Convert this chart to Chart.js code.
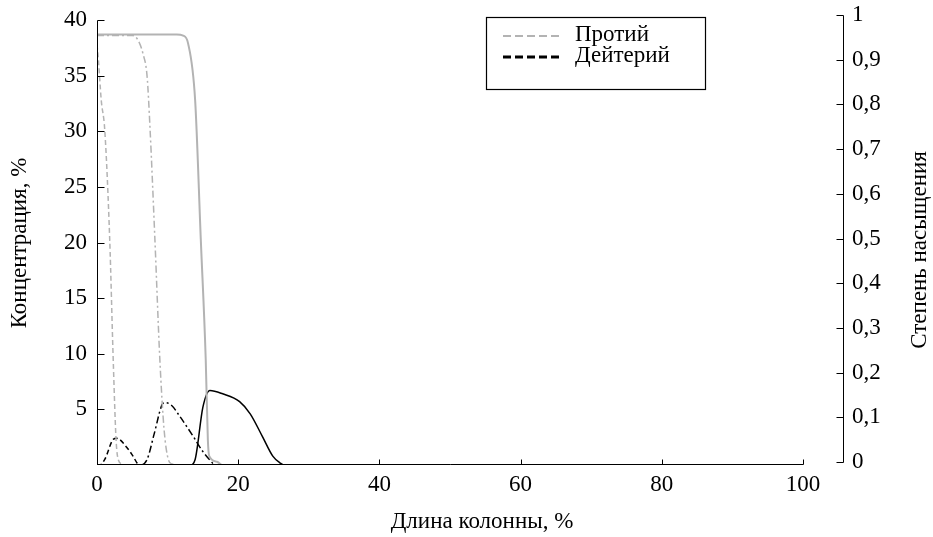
<!DOCTYPE html>
<html><head><meta charset="utf-8">
<script src="https://cdn.jsdelivr.net/npm/chart.js@4/dist/chart.umd.min.js"></script>
<style>html,body{margin:0;padding:0;background:#fff;}canvas{display:block}</style>
</head><body>
<canvas id="c" width="933" height="537"></canvas>
<script>
// ---- data (x = column length %, y = concentration %) ----
const protiumT1X = [0, 0.2, 0.6, 1.1, 1.8, 2.3, 2.7, 3.0, 3.5, 4.5, 100];
const protiumT1Y = [37.8, 36.4, 32.8, 30.1, 20.3, 9.4, 2.3, 0.5, 0.1, 0, 0];
const protiumT2X = [0, 5.0, 5.8, 6.5, 7.1, 7.5, 8.2, 8.9, 9.5, 10.1, 10.6, 11.5, 100];
const protiumT2Y = [38.6, 38.6, 38.2, 37.0, 34.9, 30.4, 20.3, 9.5, 3.2, 0.5, 0.1, 0, 0];
const protiumT3X = [0, 11.3, 12.2, 12.9, 13.9, 14.7, 15.4, 15.7, 15.9, 17.0, 17.7, 100];
const protiumT3Y = [38.7, 38.7, 38.6, 37.9, 32.8, 20.3, 9.5, 2.3, 0.8, 0.3, 0, 0];
const deuteriumT1X = [0, 0.4, 1.1, 2.3, 2.8, 4.2, 5.1, 5.8, 6.5, 100];
const deuteriumT1Y = [0, 0, 0.5, 2.3, 2.4, 1.6, 0.8, 0.1, 0, 0];
const deuteriumT2X = [0, 6.2, 7.1, 8.1, 9.2, 9.6, 10.5, 11.7, 13.6, 15.0, 16.2, 16.7, 100];
const deuteriumT2Y = [0, 0, 0.5, 2.8, 5.4, 5.6, 5.4, 4.4, 2.6, 1.2, 0.3, 0, 0];
const deuteriumT3X = [0, 13.2, 13.9, 15.0, 16.0, 17.8, 20.2, 21.7, 23.4, 24.9, 25.9, 26.5, 100];
const deuteriumT3Y = [0, 0, 0.5, 5.2, 6.7, 6.4, 5.7, 4.6, 2.6, 0.8, 0.2, 0, 0];

// ---- tick labels / text ----
const xTickValues = [0, 20, 40, 60, 80, 100];
const leftTickValues = [0, 5, 10, 15, 20, 25, 30, 35, 40];
const rightTickValues = [0, 0.1, 0.2, 0.3, 0.4, 0.5, 0.6, 0.7, 0.8, 0.9, 1];
const legendNames = ['Протий', 'Дейтерий'];
const xTitle = 'Длина колонны, %';
const yTitle = 'Концентрация, %';
const y2Title = 'Степень насыщения';

const FONT = '"Liberation Serif","Times New Roman",serif';
const FS = 23;
const GREY = '#b3b3b3';
const BLACK = '#000000';
const DASH = [5, 3];
const DASHDOT = [7, 3, 2, 3];

function pts(xs, ys) { return xs.map((x, i) => ({x: x, y: ys[i]})); }
function ds(label, xs, ys, color, dash, w) {
  return {label: label, data: pts(xs, ys), borderColor: color, borderDash: dash,
          borderWidth: w, pointRadius: 0, fill: false, yAxisID: 'y',
          cubicInterpolationMode: 'monotone'};
}
function noPad(s) { s.paddingTop = 0; s.paddingBottom = 0; }

const deco = {
  id: 'deco',
  afterDatasetsDraw(chart) {
    const {ctx, chartArea: a, scales} = chart;
    const x = scales.x, y = scales.y, y2 = scales.y2;
    ctx.save();
    ctx.strokeStyle = '#000';
    ctx.lineWidth = 1;
    ctx.setLineDash([]);
    const seg = (x1, y1, x2, y2_) => { ctx.beginPath(); ctx.moveTo(x1, y1); ctx.lineTo(x2, y2_); ctx.stroke(); };
    // left axis
    const lx = Math.round(a.left) + 0.5;
    const by = Math.round(a.bottom) - 0.5;
    seg(lx, Math.round(y.getPixelForValue(leftTickValues[leftTickValues.length - 1])) + 0.5, lx, by + 0.5);
    leftTickValues.forEach(v => { if (v !== 0) { const p = Math.round(y.getPixelForValue(v)) + 0.5; seg(lx, p, lx + 7, p); } });
    // bottom axis
    seg(lx, by, Math.round(a.right) + 0.5, by);
    xTickValues.forEach(v => { if (v !== 0) { const p = Math.round(x.getPixelForValue(v)) + 0.5; seg(p, by, p, by - 5); } });
    // right axis (offset from plot area)
    const rx = Math.round(a.right) + 40.5;
    const rTop = Math.round(y2.getPixelForValue(1)) + 0.5;
    const rBot = Math.round(y2.getPixelForValue(0)) + 0.5;
    seg(rx, rTop, rx, rBot);
    rightTickValues.forEach(v => { const p = Math.round(y2.getPixelForValue(v)) + 0.5; seg(rx - 7, p, rx, p); });

    // legend
    ctx.strokeStyle = '#000';
    ctx.lineWidth = 1.2;
    ctx.strokeRect(486.5, 17.5, 219, 72);
    ctx.lineWidth = 2;
    ctx.setLineDash([8, 4]);
    ctx.strokeStyle = GREY;
    seg(503, 36, 562, 36);
    ctx.lineWidth = 3;
    ctx.strokeStyle = BLACK;
    seg(503, 57, 562, 57);
    ctx.setLineDash([]);
    ctx.fillStyle = '#000';
    ctx.font = FS + 'px ' + FONT;
    ctx.textAlign = 'left';
    ctx.textBaseline = 'alphabetic';
    ctx.fillText(legendNames[0], 575, 41);
    ctx.fillText(legendNames[1], 575, 62);

    // axis titles
    ctx.textAlign = 'center';
    ctx.textBaseline = 'middle';
    ctx.fillText(xTitle, 482, 522);
    ctx.save();
    ctx.translate(20, 243);
    ctx.rotate(-Math.PI / 2);
    ctx.fillText(yTitle, 0, 0);
    ctx.restore();
    ctx.save();
    ctx.translate(920, 250);
    ctx.rotate(-Math.PI / 2);
    ctx.fillText(y2Title, 0, 0);
    ctx.restore();
    ctx.restore();
  }
};

new Chart(document.getElementById('c'), {
  type: 'line',
  data: {datasets: [
    ds(legendNames[0], protiumT1X, protiumT1Y, GREY, DASH, 1.5),
    ds(legendNames[0], protiumT2X, protiumT2Y, GREY, DASHDOT, 1.5),
    ds(legendNames[0], protiumT3X, protiumT3Y, GREY, [], 2),
    ds(legendNames[1], deuteriumT1X, deuteriumT1Y, BLACK, DASH, 1.5),
    ds(legendNames[1], deuteriumT2X, deuteriumT2Y, BLACK, DASHDOT, 1.5),
    ds(legendNames[1], deuteriumT3X, deuteriumT3Y, BLACK, [], 1.5)
  ]},
  options: {
    responsive: false,
    animation: false,
    devicePixelRatio: 1,
    layout: {padding: {top: 15, left: 0, right: 0, bottom: 0}},
    plugins: {legend: {display: false}, tooltip: {enabled: false}},
    scales: {
      x: {
        type: 'linear', position: 'bottom', min: 0, max: 100,
        grid: {display: false, drawTicks: false}, border: {display: false},
        afterBuildTicks: s => { s.ticks = xTickValues.map(v => ({value: v})); },
        ticks: {font: {family: FONT, size: FS}, color: '#000', padding: 6, maxRotation: 0, autoSkip: false},
        afterFit: s => { s.height = 72; s.paddingLeft = 0; s.paddingRight = 0; }
      },
      y: {
        type: 'linear', position: 'left', min: 0, max: 40.45,
        grid: {display: false, drawTicks: false}, border: {display: false},
        afterBuildTicks: s => { s.ticks = leftTickValues.map(v => ({value: v})); },
        ticks: {font: {family: FONT, size: FS}, color: '#000', padding: 10, autoSkip: false,
                callback: v => (v === 0 ? '' : String(v))},
        afterFit: s => { s.width = 97; noPad(s); }
      },
      y2: {
        type: 'linear', position: 'right', min: -0.0067, max: 1,
        grid: {display: false, drawTicks: false}, border: {display: false},
        afterBuildTicks: s => { s.ticks = rightTickValues.map(v => ({value: v})); },
        ticks: {font: {family: FONT, size: FS}, color: '#000', padding: 49, autoSkip: false,
                callback: v => (v === 0 || v === 1 ? String(v) : v.toFixed(1).replace('.', ','))},
        afterFit: s => { s.width = 130; noPad(s); }
      }
    }
  },
  plugins: [deco]
});
</script>
</body></html>
